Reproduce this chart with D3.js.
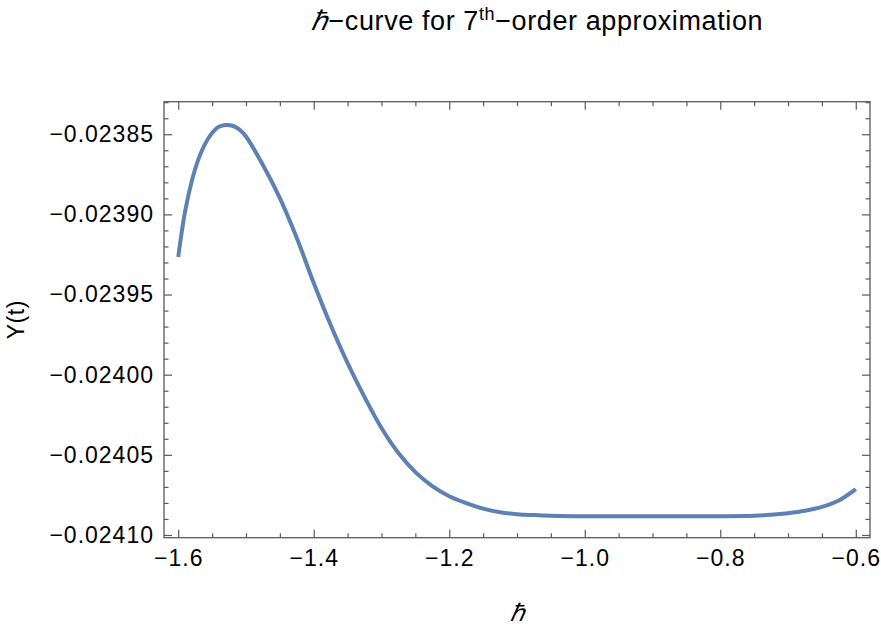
<!DOCTYPE html>
<html>
<head>
<meta charset="utf-8">
<script src="https://cdn.jsdelivr.net/npm/d3@7"></script>
<style>
  html, body { margin: 0; padding: 0; background: #fff; }
  svg { display: block; font-family: "Liberation Sans", Arial, sans-serif; }
</style>
</head>
<body>
<svg id="chart" width="881" height="626"></svg>
<script>
// ---- data ----
const hValues = [-1.6, -1.59, -1.58, -1.57, -1.56, -1.55, -1.54, -1.53, -1.52, -1.51, -1.5, -1.475, -1.45,
  -1.425, -1.4, -1.375, -1.35, -1.325, -1.3, -1.275, -1.25, -1.225, -1.2, -1.175, -1.15, -1.125,
  -1.1, -1.075, -1.05, -1.0, -0.9, -0.8, -0.75, -0.725, -0.7, -0.675, -0.65, -0.625, -0.6];
const yValues = [-0.0239266, -0.0238985, -0.0238792, -0.0238654, -0.0238557, -0.0238492, -0.0238453,
  -0.0238442, -0.0238447, -0.0238470, -0.0238514, -0.0238692, -0.0238898, -0.0239147, -0.0239428, -0.0239690,
  -0.0239928, -0.0240140, -0.0240333, -0.0240489, -0.0240608, -0.0240695, -0.0240758, -0.0240801,
  -0.0240836, -0.0240858, -0.0240870, -0.0240876, -0.0240880, -0.0240883, -0.0240883, -0.0240883,
  -0.0240880, -0.0240874, -0.0240864, -0.0240849, -0.0240825, -0.0240785, -0.0240714];

const xMajorTicks = [-1.6, -1.4, -1.2, -1.0, -0.8, -0.6];
const xMinorTicks = [-1.55, -1.5, -1.45, -1.35, -1.3, -1.25, -1.15, -1.1, -1.05, -0.95, -0.9, -0.85, -0.75, -0.7, -0.65];
const yMajorTicks = [-0.02385, -0.02390, -0.02395, -0.02400, -0.02405, -0.02410];
const yMinorTicks = [-0.02383, -0.02384, -0.02386, -0.02387, -0.02388, -0.02389, -0.02391, -0.02392, -0.02393, -0.02394,
  -0.02396, -0.02397, -0.02398, -0.02399, -0.02401, -0.02402, -0.02403, -0.02404, -0.02406, -0.02407, -0.02408, -0.02409];
const xDomain = [-1.621, -0.579];
const yDomain = [-0.0241017, -0.0238297];

const titleMain = "\u210F\u2212curve for 7";
const titleSup = "th";
const titleEnd = "\u2212order approximation";
const xLabel = "\u210F";
const yLabel = "Y(t)";

// ---- layout ----
const svg = d3.select("#chart");
const L = 164, R = 870, T = 101.7, B = 537.7;
const frameColor = "#5a5a5a";

const x = d3.scaleLinear().domain(xDomain).range([L, R]);
const y = d3.scaleLinear().domain(yDomain).range([B, T]);

const data = hValues.map((h, i) => ({ h, v: yValues[i] }));

svg.append("clipPath").attr("id", "clip")
  .append("rect").attr("x", L).attr("y", T).attr("width", R - L).attr("height", B - T);

svg.append("path")
  .datum(data)
  .attr("clip-path", "url(#clip)")
  .attr("fill", "none")
  .attr("stroke", "#5E81B5")
  .attr("stroke-width", 4)
  .attr("stroke-linejoin", "round")
  .attr("d", d3.line().x(d => x(d.h)).y(d => y(d.v)).curve(d3.curveCatmullRom.alpha(0.5)));

function styleAxis(g) {
  g.select(".domain").remove();
  g.selectAll(".tick line").attr("stroke", frameColor).attr("stroke-width", 1.2);
  g.selectAll(".tick text").attr("fill", "#000").style("font-size", "23px")
    .style("letter-spacing", "1px")
    .style("font-family", "'Liberation Sans', Arial, sans-serif");
}

const fmtY = d3.format(".5f");
const fmtX = d3.format(".1f");

// bottom
svg.append("g").attr("transform", `translate(0,${B})`)
  .call(d3.axisBottom(x).tickValues(xMajorTicks).tickSize(-8).tickPadding(12).tickFormat(fmtX))
  .call(styleAxis);
svg.append("g").attr("transform", `translate(0,${B})`)
  .call(d3.axisBottom(x).tickValues(xMinorTicks).tickSize(-4.5).tickFormat(""))
  .call(styleAxis);
// top
svg.append("g").attr("transform", `translate(0,${T})`)
  .call(d3.axisTop(x).tickValues(xMajorTicks).tickSize(-8).tickFormat(""))
  .call(styleAxis);
svg.append("g").attr("transform", `translate(0,${T})`)
  .call(d3.axisTop(x).tickValues(xMinorTicks).tickSize(-4.5).tickFormat(""))
  .call(styleAxis);
// left
svg.append("g").attr("transform", `translate(${L},0)`)
  .call(d3.axisLeft(y).tickValues(yMajorTicks).tickSize(-8).tickPadding(10).tickFormat(fmtY))
  .call(styleAxis);
svg.append("g").attr("transform", `translate(${L},0)`)
  .call(d3.axisLeft(y).tickValues(yMinorTicks).tickSize(-4.5).tickFormat(""))
  .call(styleAxis);
// right
svg.append("g").attr("transform", `translate(${R},0)`)
  .call(d3.axisRight(y).tickValues(yMajorTicks).tickSize(-8).tickFormat(""))
  .call(styleAxis);
svg.append("g").attr("transform", `translate(${R},0)`)
  .call(d3.axisRight(y).tickValues(yMinorTicks).tickSize(-4.5).tickFormat(""))
  .call(styleAxis);

// frame
svg.append("rect")
  .attr("x", L).attr("y", T).attr("width", R - L).attr("height", B - T)
  .attr("fill", "none").attr("stroke", frameColor).attr("stroke-width", 1.3);

// title
const title = svg.append("text")
  .attr("x", 537).attr("y", 30)
  .attr("text-anchor", "middle")
  .style("font-size", "27px").style("letter-spacing", "0.6px").attr("fill", "#000");
title.append("tspan").style("font-style", "italic").text(titleMain.charAt(0));
title.append("tspan").text(titleMain.slice(1));
title.append("tspan").attr("dy", -10).style("font-size", "18px").text(titleSup);
title.append("tspan").attr("dy", 10).text(titleEnd);

// axis labels
svg.append("text")
  .attr("x", (L + R) / 2).attr("y", 621)
  .attr("text-anchor", "middle")
  .style("font-size", "24px").style("font-style", "italic").attr("fill", "#000")
  .text(xLabel);

svg.append("text")
  .attr("transform", `translate(24,${(T + B) / 2}) rotate(-90)`)
  .attr("text-anchor", "middle")
  .style("font-size", "23px").style("letter-spacing", "0.5px").attr("fill", "#000")
  .text(yLabel);
</script>
</body>
</html>
